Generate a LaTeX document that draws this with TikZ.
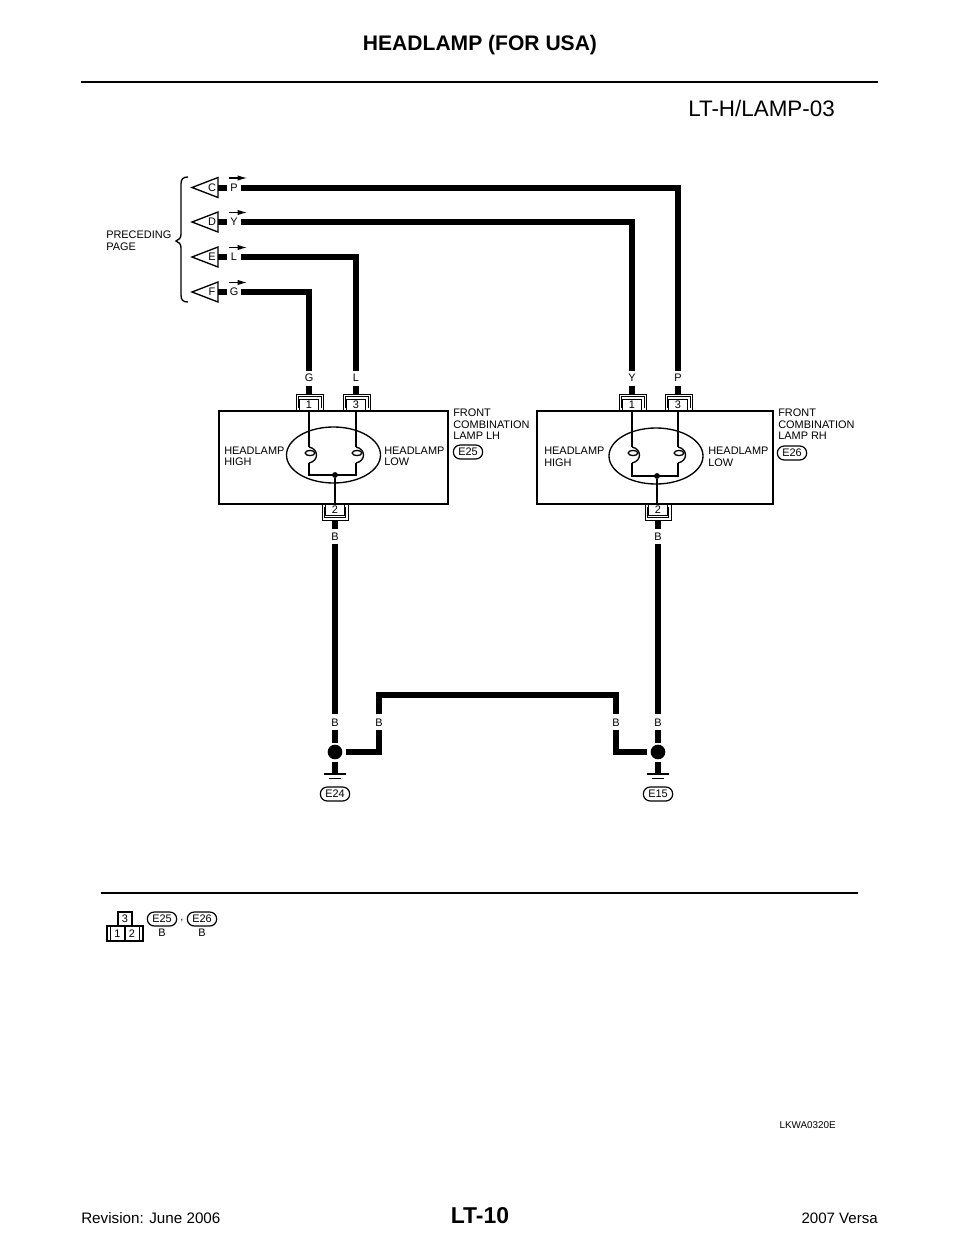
\documentclass[tikz,border=0pt]{standalone}
\usepackage{fontspec}
\setmainfont{Liberation Sans}
\usetikzlibrary{arrows.meta}
\tikzset{
  wire/.style={line width=4.5pt,line cap=butt,line join=miter},
  thin line/.style={line width=1pt},
  lbl/.style={font=\fontsize{8.2}{8.6}\selectfont,inner sep=0pt,align=left,anchor=west},
  wl/.style={font=\fontsize{8.2}{8.6}\selectfont,inner sep=0pt},
  oval/.style={draw,line width=.9pt,rounded corners=5.2pt,minimum width=22pt,minimum height=10.5pt,inner sep=0pt,font=\fontsize{8.2}{8.6}\selectfont},
  tri/.style={line width=1pt,fill=white},
  dotw/.style={fill=black,circle,inner sep=0pt,minimum size=11pt},
  dots/.style={fill=black,circle,inner sep=0pt,minimum size=4.4pt},
  pin/.style={draw,line width=.7pt,fill=white,inner sep=0pt,font=\fontsize{8.2}{8.6}\selectfont},
  bracket/.style={line width=.6pt},
  hdr/.style={inner sep=0pt},
}
\newcommand{\sourcerow}[4]{% y, letter, colour, name
  \draw[tri] (192,#1) -- (218,#1-10) -- (218,#1+10) -- cycle;
  \node[wl] at (212,#1) {#2};
  \draw[wire] (218,#1) -- (227,#1);
  \node[wl] at (234,#1) {#3};
  \draw[-{Latex[length=7pt,width=4pt]},line width=.8pt] (229,#1-9.5) -- (247,#1-9.5);
  \coordinate (#4) at (241,#1);
}
\newcommand{\coil}[2]{%
  \draw[thin line] (#1,447) .. controls (#1+10,449) and (#1+10,461) .. (#1,463);
  \draw[thin line] (#1+1,#2) ellipse (4.8 and 2.6);
}
\newcommand{\upin}[3]{% x, number, name
  \draw[bracket] (#1-12.5,411) -- (#1-12.5,394) -- (#1+14,394) -- (#1+14,411);
  \draw[bracket] (#1-10.5,408) -- (#1-10.5,396.5) -- (#1+12,396.5) -- (#1+12,408);
  \node[pin,minimum width=14pt,minimum height=8.6pt] (#3) at (#1,405.2) {#2};
}
\newcommand{\lpin}[3]{%
  \draw[bracket] (#1-13,504) -- (#1-13,520) -- (#1+13,520) -- (#1+13,504);
  \draw[bracket] (#1-10.5,507) -- (#1-10.5,517.5) -- (#1+10.5,517.5) -- (#1+10.5,507);
  \node[pin,minimum width=14.5pt,minimum height=8.2pt] (#3) at (#1,509.8) {#2};
}
\begin{document}
\begin{tikzpicture}[x=.75pt,y=-.75pt]
\useasboundingbox (0,0) rectangle (960,1242);
\fill[white] (0,0) rectangle (960,1242);
% header
\node[hdr,font=\fontsize{15.8}{18}\selectfont\bfseries] (title) at (480,45.5) {HEADLAMP (FOR USA)};
\draw[line width=2pt] (81,82) -- (878,82);
\node[hdr,font=\fontsize{16.8}{20}\selectfont,anchor=east] (code) at (835,108) {LT-H/LAMP-03};
% sources
\sourcerow{187.5}{C}{P}{sp}
\sourcerow{222}{D}{Y}{sy}
\sourcerow{257}{E}{L}{sl}
\sourcerow{292}{F}{G}{sg}
\draw[line width=1pt] (188,177) .. controls (183,177) and (181,179) .. (181,184) -- (181,234) .. controls (181,238) and (179,240) .. (176,241) .. controls (179,242) and (181,244) .. (181,248) -- (181,295) .. controls (181,300) and (183,302) .. (188,302);
\node[lbl] (prec) at (106,240.5) {PRECEDING\\PAGE};
% boxes
\draw[line width=1pt] (219,411) rectangle (448,504);
\draw[line width=1pt] (537,411) rectangle (773,504);
\draw[thin line] (333.5,455) ellipse (47 and 28);
\draw[thin line] (656,456) ellipse (47 and 28);
% internal wiring LH
\draw[thin line] (309,411) -- (309,447);
\draw[thin line] (356,411) -- (356,447);
\draw[thin line] (309,463) -- (309,475) -- (356,475) -- (356,463);
\coil{309}{453}\coil{356}{453}
\node[dots] (jl) at (335,475) {};
\draw[thin line] (jl) -- (335,504);
% internal wiring RH
\draw[thin line] (632,411) -- (632,447);
\draw[thin line] (678,411) -- (678,447);
\draw[thin line] (632,463) -- (632,476) -- (678,476) -- (678,463);
\coil{632}{453}\coil{678}{453}
\node[dots] (jr) at (657,476) {};
\draw[thin line] (jr) -- (657,504);
% pins
\upin{309}{1}{pl1}\upin{356}{3}{pl3}\lpin{335}{2}{pl2}
\upin{632}{1}{pr1}\upin{678}{3}{pr3}\lpin{658}{2}{pr2}
% upper wires
\draw[wire] (sg) -| (309,371);
\draw[wire] (sl) -| (356,371);
\draw[wire] (sy) -| (632,371);
\draw[wire] (sp) -| (678,371);
\node[wl] (wg) at (309,378) {G};
\node[wl] (wl1) at (356,378) {L};
\node[wl] (wy) at (632,378) {Y};
\node[wl] (wp) at (678,378) {P};
\foreach \x in {309,356,632,678} \draw[wire] (\x,385.5) -- (\x,394);
% text in boxes
\node[lbl] at (224,456.5) {HEADLAMP\\HIGH};
\node[lbl] at (384,456.5) {HEADLAMP\\LOW};
\node[lbl] at (544,457) {HEADLAMP\\HIGH};
\node[lbl] at (708,457) {HEADLAMP\\LOW};
\node[lbl] at (453,424.5) {FRONT\\COMBINATION\\LAMP LH};
\node[lbl] at (778,424.5) {FRONT\\COMBINATION\\LAMP RH};
\node[oval] (e25) at (468,452) {E25};
\node[oval] (e26) at (792,453) {E26};
% lower wires
\foreach \x in {335,658} {
  \draw[wire] (\x,520) -- (\x,529);
  \node[wl] at (\x,537) {B};
  \draw[wire] (\x,544) -- (\x,714);
  \node[wl] at (\x,723) {B};
  \draw[wire] (\x,730) -- (\x,743);
  \draw[wire] (\x,762) -- (\x,774);
  \draw[line width=1.2pt] (\x-11,774) -- (\x+11,774);
  \draw[line width=1.2pt] (\x-6,778.5) -- (\x+6,778.5);
}
\node[dotw] (g1) at (335,752) {};
\node[dotw] (g2) at (658,752) {};
\node[oval] (e24) at (335,794) {E24};
\node[oval] (e15) at (658,794) {E15};
\node[wl] at (379,723) {B};
\node[wl] at (616,723) {B};
\draw[wire] (379,714) -- (379,694.5) -- (616,694.5) -- (616,714);
\draw[wire] (346,752) -- (379,752) -- (379,730);
\draw[wire] (616,730) -- (616,752) -- (647,752);
% legend
\draw[line width=1.5pt] (101,893) -- (858,893);
\draw[line width=1pt] (118,912) rectangle (132,926);
\node[wl] at (125,919) {3};
\draw[line width=1pt] (107,926) rectangle (143,941);
\draw[line width=1pt] (110.5,926) -- (110.5,941);
\draw[line width=1pt] (125,926) -- (125,941);
\draw[line width=1pt] (139.5,926) -- (139.5,941);
\node[wl] at (117.5,933.5) {1};
\node[wl] at (132,933.5) {2};
\node[oval] (k25) at (162,919) {E25};
\node[wl] at (182,921) {,};
\node[oval] (k26) at (202,919) {E26};
\node[wl] at (162,933) {B};
\node[wl] at (202,933) {B};
\node[hdr,font=\fontsize{7.4}{8}\selectfont,anchor=east] (ref) at (836,1125) {LKWA0320E};
% footer
\node[hdr,font=\fontsize{17.2}{19}\selectfont\bfseries] (pg) at (480,1216) {LT-10};
\node[hdr,font=\fontsize{11.4}{13}\selectfont,anchor=west] (rev) at (81,1218) {Revision: June 2006};
\node[hdr,font=\fontsize{11.3}{13}\selectfont,anchor=east] (ver) at (878,1218) {2007 Versa};
\end{tikzpicture}
\end{document}
